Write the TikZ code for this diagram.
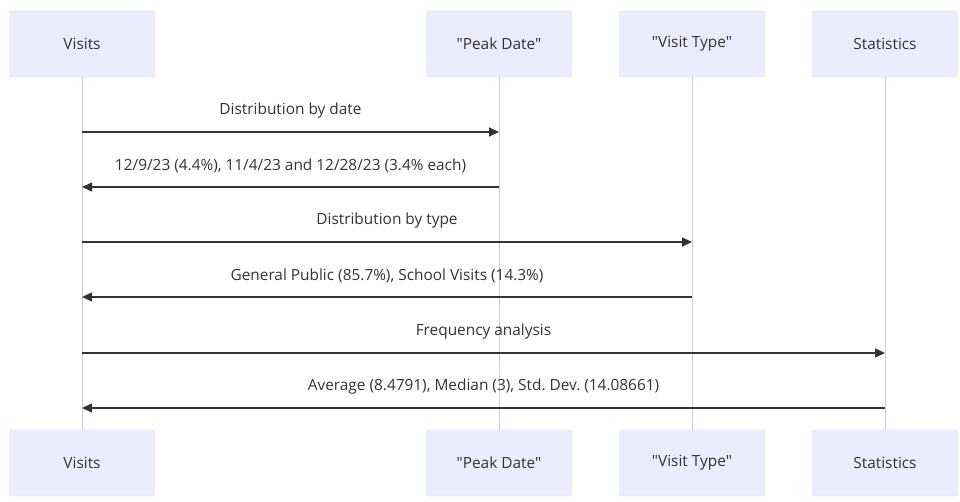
\documentclass[tikz,border=0pt]{standalone}
\usepackage{fontspec}
\setmainfont{Open Sans}
\usetikzlibrary{arrows.meta}
\definecolor{actfill}{HTML}{ECECFF}
\definecolor{actdraw}{HTML}{D4D4F2}
\definecolor{lifecol}{HTML}{CACADB}
\definecolor{msgcol}{HTML}{333333}
\frenchspacing
\tikzset{
	actor/.style={draw=actdraw, fill=actfill, rounded corners=2pt, minimum width=145pt, minimum height=66pt, text=msgcol},
	life/.style={draw=lifecol, line width=0.8pt},
	msg/.style={draw=msgcol, line width=1.5pt, -{Triangle[length=10pt,width=9pt]}},
	msglabel/.style={text=msgcol, inner sep=0pt}
}
\begin{document}
\begin{tikzpicture}[x=1pt, y=-1pt, font=\fontsize{15.4}{18}\selectfont, line join=round]
	\def\xV{82} \def\xP{499} \def\xT{692} \def\xS{885} % lifelines
	\def\ytop{44} \def\ybot{463}
	\useasboundingbox (0,0) rectangle (960,502);
	% actors
	\node[actor] (vt) at (\xV,\ytop) {Visits};
	\node[actor] (pt) at (\xP,\ytop) {\textquotedbl Peak Date\textquotedbl};
	\node[actor] (tt) at (\xT,\ytop) {\textquotedbl Visit Type\textquotedbl};
	\node[actor] (st) at (\xS,\ytop) {Statistics};
	\node[actor] (vb) at (\xV,\ybot) {Visits};
	\node[actor] (pb) at (\xP,\ybot) {\textquotedbl Peak Date\textquotedbl};
	\node[actor] (tb) at (\xT,\ybot) {\textquotedbl Visit Type\textquotedbl};
	\node[actor] (sb) at (\xS,\ybot) {Statistics};
	\draw[life] (vt) -- (vb);
	\draw[life] (pt) -- (pb);
	\draw[life] (tt) -- (tb);
	\draw[life] (st) -- (sb);
	% messages
	\coordinate (v1) at (\xV,132); \coordinate (p1) at (\xP,132);
	\coordinate (v2) at (\xV,187); \coordinate (p2) at (\xP,187);
	\coordinate (v3) at (\xV,242); \coordinate (t3) at (\xT,242);
	\coordinate (v4) at (\xV,297); \coordinate (t4) at (\xT,297);
	\coordinate (v5) at (\xV,353); \coordinate (s5) at (\xS,353);
	\coordinate (v6) at (\xV,408); \coordinate (s6) at (\xS,408);
	\draw[msg] (v1) -- node[msglabel, above=13pt] (m1) {Distribution by date} (p1);
	\draw[msg] (p2) -- node[msglabel, above=13pt] (m2) {12/9/23 (4.4\%), 11/4/23 and 12/28/23 (3.4\% each)} (v2);
	\draw[msg] (v3) -- node[msglabel, above=13pt] (m3) {Distribution by type} (t3);
	\draw[msg] (t4) -- node[msglabel, above=13pt] (m4) {General Public (85.7\%), School Visits (14.3\%)} (v4);
	\draw[msg] (v5) -- node[msglabel, above=13pt] (m5) {Frequency analysis} (s5);
	\draw[msg] (s6) -- node[msglabel, above=13pt] (m6) {Average (8.4791), Median (3), Std. Dev. (14.08661)} (v6);
\end{tikzpicture}
\end{document}
